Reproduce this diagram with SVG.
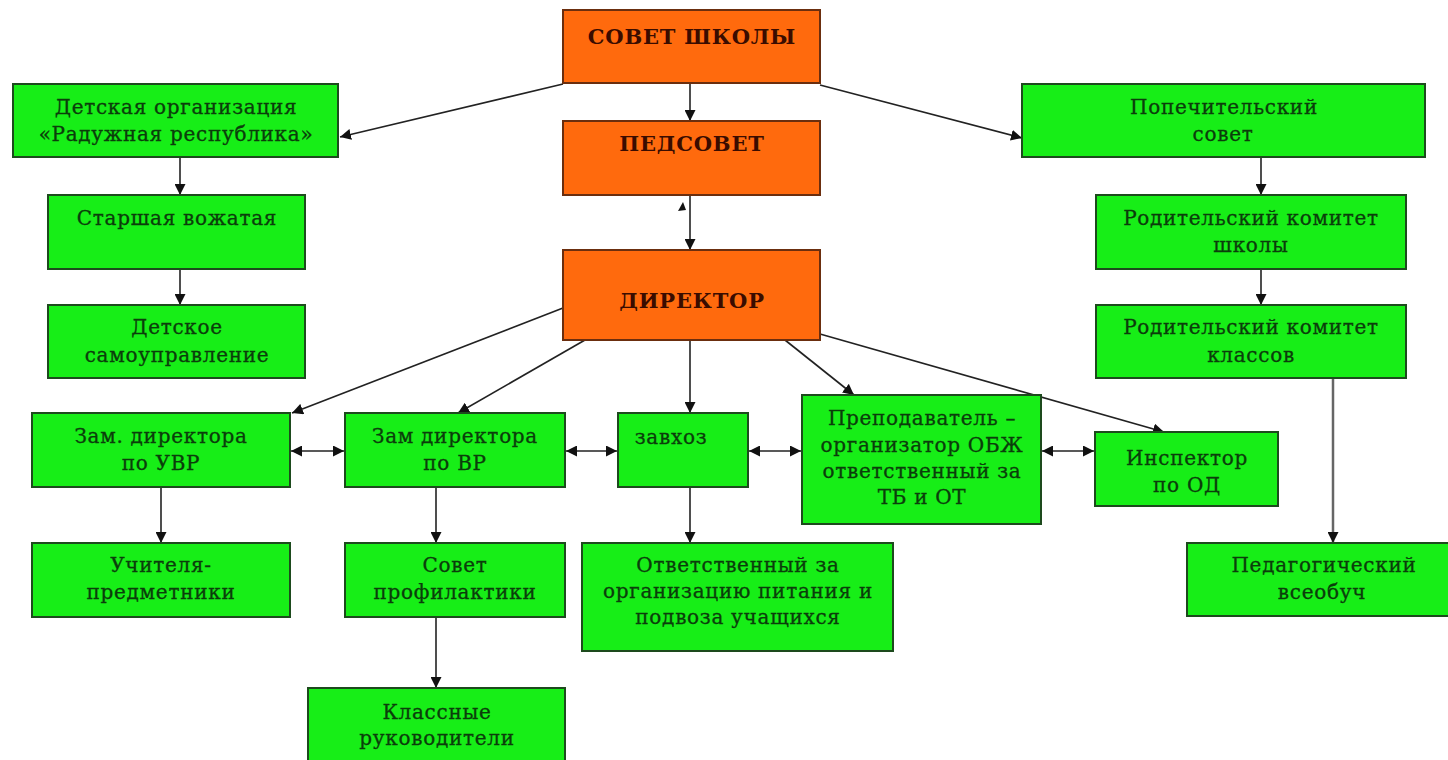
<svg xmlns="http://www.w3.org/2000/svg" width="1448" height="760" viewBox="0 0 1448 760">
<defs>
<marker id="ah" viewBox="0 0 10 10" refX="10" refY="5" markerWidth="11" markerHeight="11" markerUnits="userSpaceOnUse" orient="auto-start-reverse">
<path d="M0,0 L10,5 L0,10 z" fill="#111"/>
</marker>
</defs>
<style>
.g{fill:#17ee17;stroke:#1d4a1d;stroke-width:2}
.o{fill:#ff6a0d;stroke:#6b2e0e;stroke-width:2}
.t{font-family:"DejaVu Serif","Liberation Serif",serif;font-size:20px;fill:#0b3d0b;stroke:#0b3d0b;stroke-width:0.3;text-anchor:middle;letter-spacing:0.7px}
.h{font-family:"DejaVu Serif","Liberation Serif",serif;font-size:21px;font-weight:bold;fill:#3a0c00;text-anchor:middle;letter-spacing:0.8px}
.c{stroke:#222;stroke-width:1.6;fill:none;marker-end:url(#ah)}
.d{stroke:#222;stroke-width:1.6;fill:none;marker-end:url(#ah);marker-start:url(#ah)}
</style>
<rect width="1448" height="760" fill="#fff"/>
<g id="connectors">
<line class="c" x1="690" y1="83" x2="690" y2="121"/>
<line class="c" x1="563" y1="84" x2="340" y2="137"/>
<line class="c" x1="820" y1="85" x2="1022" y2="138"/>
<line class="c" x1="690" y1="195" x2="690" y2="250"/>
<path d="M683,202 L678,211 L686,210 z" fill="#111"/>
<line class="c" x1="563" y1="308" x2="292" y2="413"/>
<line class="c" x1="585" y1="340" x2="458" y2="413"/>
<line class="c" x1="690" y1="340" x2="690" y2="413"/>
<line class="c" x1="785" y1="340" x2="854" y2="395"/>
<line class="c" x1="820" y1="334" x2="1164" y2="432"/>
<line class="d" x1="291" y1="451" x2="344" y2="451"/>
<line class="d" x1="566" y1="451" x2="617" y2="451"/>
<line class="d" x1="749" y1="451" x2="801" y2="451"/>
<line class="d" x1="1042" y1="451" x2="1094" y2="451"/>
<line class="c" x1="180" y1="157" x2="180" y2="195"/>
<line class="c" x1="180" y1="269" x2="180" y2="305"/>
<line class="c" x1="1261" y1="157" x2="1261" y2="195"/>
<line class="c" x1="1261" y1="269" x2="1261" y2="305"/>
<line class="c" x1="1333" y1="378" x2="1333" y2="543" style="stroke:#666;stroke-width:2.5"/>
<line class="c" x1="161" y1="487" x2="161" y2="543"/>
<line class="c" x1="436" y1="487" x2="436" y2="543"/>
<line class="c" x1="436" y1="617" x2="436" y2="688"/>
<line class="c" x1="690" y1="487" x2="690" y2="543"/>
</g>
<g id="sovet"><rect class="o" x="563" y="10" width="257" height="73"/><text class="h" x="692" y="44">СОВЕТ ШКОЛЫ</text></g>
<g id="pedsovet"><rect class="o" x="563" y="121" width="257" height="74"/><text class="h" x="692" y="151">ПЕДСОВЕТ</text></g>
<g id="director"><rect class="o" x="563" y="250" width="257" height="90"/><text class="h" x="692" y="308">ДИРЕКТОР</text></g>
<g id="detorg"><rect class="g" x="13" y="84" width="325" height="73"/><text class="t" x="176" y="114">Детская организация</text><text class="t" x="176" y="141">«Радужная республика»</text></g>
<g id="vozh"><rect class="g" x="48" y="195" width="257" height="74"/><text class="t" x="177" y="225">Старшая вожатая</text></g>
<g id="samoupr"><rect class="g" x="48" y="305" width="257" height="73"/><text class="t" x="177" y="334">Детское</text><text class="t" x="177" y="362">самоуправление</text></g>
<g id="popech"><rect class="g" x="1022" y="84" width="403" height="73"/><text class="t" x="1224" y="114">Попечительский</text><text class="t" x="1223" y="141">совет</text></g>
<g id="rodshk"><rect class="g" x="1096" y="195" width="310" height="74"/><text class="t" x="1251" y="225">Родительский комитет</text><text class="t" x="1251" y="252">школы</text></g>
<g id="rodkl"><rect class="g" x="1096" y="305" width="310" height="73"/><text class="t" x="1251" y="334">Родительский комитет</text><text class="t" x="1251" y="362">классов</text></g>
<g id="uvr"><rect class="g" x="32" y="413" width="258" height="74"/><text class="t" x="161" y="443">Зам. директора</text><text class="t" x="161" y="470">по УВР</text></g>
<g id="vr"><rect class="g" x="345" y="413" width="220" height="74"/><text class="t" x="455" y="443">Зам директора</text><text class="t" x="455" y="470">по ВР</text></g>
<g id="zavhoz"><rect class="g" x="618" y="413" width="130" height="74"/><text class="t" x="671" y="444">завхоз</text></g>
<g id="obzh"><rect class="g" x="802" y="395" width="239" height="129"/><text class="t" x="922" y="425">Преподаватель –</text><text class="t" x="922" y="452">организатор ОБЖ</text><text class="t" x="922" y="478">ответственный за</text><text class="t" x="922" y="504">ТБ и ОТ</text></g>
<g id="inspektor"><rect class="g" x="1095" y="432" width="183" height="74"/><text class="t" x="1187" y="465">Инспектор</text><text class="t" x="1187" y="492">по ОД</text></g>
<g id="uchitelya"><rect class="g" x="32" y="543" width="258" height="74"/><text class="t" x="161" y="572">Учителя-</text><text class="t" x="161" y="599">предметники</text></g>
<g id="profil"><rect class="g" x="345" y="543" width="220" height="74"/><text class="t" x="455" y="572">Совет</text><text class="t" x="455" y="599">профилактики</text></g>
<g id="pitanie"><rect class="g" x="582" y="543" width="311" height="108"/><text class="t" x="738" y="572">Ответственный за</text><text class="t" x="738" y="598">организацию питания и</text><text class="t" x="738" y="624">подвоза учащихся</text></g>
<g id="klassnye"><rect class="g" x="308" y="688" width="257" height="80"/><text class="t" x="437" y="719">Классные</text><text class="t" x="437" y="745">руководители</text></g>
<g id="vseobuch"><rect class="g" x="1187" y="543" width="270" height="73"/><text class="t" x="1324" y="572">Педагогический</text><text class="t" x="1322" y="599">всеобуч</text></g>
</svg>
